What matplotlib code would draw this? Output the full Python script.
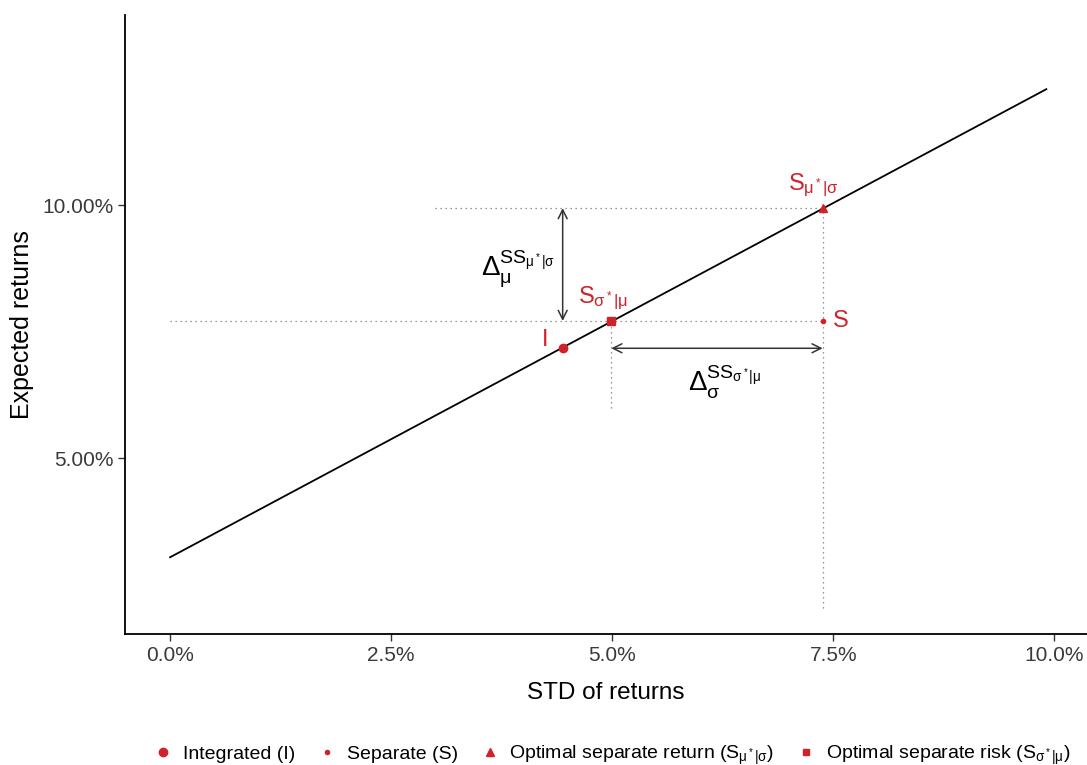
import numpy as np
import matplotlib
matplotlib.use("Agg")
from matplotlib import pyplot as plt
from matplotlib.lines import Line2D

plt.rcParams['font.family'] = ['Liberation Sans', 'DejaVu Sans']
plt.rcParams['mathtext.fontset'] = 'custom'
plt.rcParams['mathtext.rm'] = 'Liberation Sans'
plt.rcParams['mathtext.it'] = 'Liberation Sans:italic'
plt.rcParams['mathtext.sf'] = 'Liberation Sans'

# frontier line (in %)
line_x = [0.0, 9.91]
line_y = [3.04, 12.29]

# points (std %, return %)
pt_names = ["I", "S", "Smu", "Ssig"]
pt_x = [4.44, 7.38, 7.38, 4.99]
pt_y = [7.17, 7.71, 9.94, 7.71]

x_ticks = [0.0, 2.5, 5.0, 7.5, 10.0]
x_labels = ["0.0%", "2.5%", "5.0%", "7.5%", "10.0%"]
y_ticks = [5.0, 10.0]
y_labels = ["5.00%", "10.00%"]

red = '#D0222A'

S_MU = r"\mathrm{S}_{\mathrm{\mu^*|\sigma}}"
S_SIG = r"\mathrm{S}_{\mathrm{\sigma^*|\mu}}"

fig = plt.figure(figsize=(10.87, 7.65), dpi=100)
ax = fig.add_axes([0.115, 0.171, 0.885, 0.809])

ax.plot(line_x, line_y, color='black', lw=1.3, zorder=2)

I_x, S_x, Smu_x, Ssig_x = pt_x
I_y, S_y, Smu_y, Ssig_y = pt_y

# dotted guides
dot = dict(color='#777777', lw=0.9, ls=(0, (1, 3)), zorder=1)
ax.plot([3.0, Smu_x], [Smu_y, Smu_y], **dot)
ax.plot([0.0, S_x], [S_y, S_y], **dot)
ax.plot([S_x, S_x], [2.04, Smu_y], **dot)
ax.plot([Ssig_x, Ssig_x], [5.99, Ssig_y], **dot)

# arrows
arr = dict(arrowstyle='<->', color='#333333', lw=1.1, mutation_scale=16, shrinkA=0, shrinkB=0)
ax.annotate('', xy=(I_x, Smu_y), xytext=(I_x, S_y), arrowprops=arr)
ax.annotate('', xy=(Ssig_x, I_y), xytext=(S_x, I_y), arrowprops=arr)

# markers
ax.plot(I_x, I_y, 'o', color=red, ms=6, zorder=3)
ax.plot(S_x, S_y, 'o', color=red, ms=3, zorder=3)
ax.plot(Smu_x, Smu_y, '^', color=red, ms=6, zorder=3)
ax.plot(Ssig_x, Ssig_y, 's', color=red, ms=5.5, zorder=3)

# point labels
ax.text(I_x - 0.2, I_y + 0.17, "I", color=red, fontsize=17, ha='center', va='center')
ax.text(S_x + 0.2, S_y, "S", color=red, fontsize=17, ha='center', va='center')
ax.text(Smu_x - 0.1, Smu_y + 0.45, "$" + S_MU + "$", color=red, fontsize=17,
        ha='center', va='center')
ax.text(Ssig_x - 0.1, Ssig_y + 0.45, "$" + S_SIG + "$", color=red, fontsize=17,
        ha='center', va='center')

# delta labels
ax.text(3.93, 8.72, r"$\Delta_{\mathrm{\mu}}^{" + S_MU.replace(r"\mathrm{S}", r"\mathrm{SS}") + "}$",
        color='black', fontsize=20, ha='center', va='center')
ax.text(6.27, 6.5, r"$\Delta_{\mathrm{\sigma}}^{" + S_SIG.replace(r"\mathrm{S}", r"\mathrm{SS}") + "}$",
        color='black', fontsize=20, ha='center', va='center')

ax.set_xlim(-0.51, 10.37)
ax.set_ylim(1.52, 13.75)
ax.set_xticks(x_ticks)
ax.set_xticklabels(x_labels)
ax.set_yticks(y_ticks)
ax.set_yticklabels(y_labels)
ax.tick_params(labelsize=15, colors='#333333', length=5, width=1)
ax.tick_params(labelcolor='#3A3A3A')
for side in ['top', 'right']:
    ax.spines[side].set_visible(False)
for side in ['left', 'bottom']:
    ax.spines[side].set_linewidth(1.3)
ax.set_xlabel("STD of returns", fontsize=17.5, labelpad=12)
ax.set_ylabel("Expected returns", fontsize=18, labelpad=6)

handles = [
    Line2D([], [], marker='o', color=red, ls='', ms=6),
    Line2D([], [], marker='o', color=red, ls='', ms=3),
    Line2D([], [], marker='^', color=red, ls='', ms=6),
    Line2D([], [], marker='s', color=red, ls='', ms=5),
]
labels = ["Integrated (I)", "Separate (S)",
          "Optimal separate return ($" + S_MU + "$)",
          "Optimal separate risk ($" + S_SIG + "$)"]
fig.legend(handles, labels, loc='lower center', bbox_to_anchor=(0.562, -0.025), ncol=4,
           frameon=False, fontsize=14, handletextpad=0.4, columnspacing=1.05,
           handlelength=1.2)

fig.savefig("out.png", dpi=100)
